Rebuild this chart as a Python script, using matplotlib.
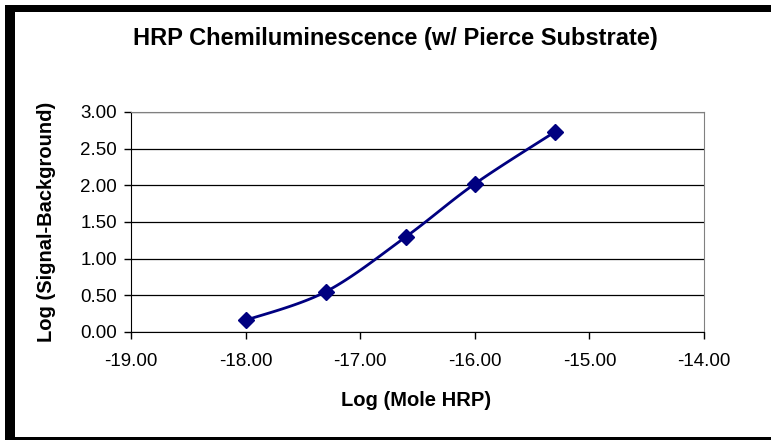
import matplotlib
matplotlib.use('Agg')
import matplotlib.pyplot as plt
from matplotlib.patches import Rectangle
import numpy as np

plt.rcParams['font.family'] = ['Liberation Sans', 'DejaVu Sans']

log_mole = [-18.0, -17.3, -16.6, -16.0, -15.3]
log_signal = [0.16, 0.55, 1.30, 2.02, 2.73]
x_ticks = [-19.0, -18.0, -17.0, -16.0, -15.0, -14.0]
y_ticks = [0.0, 0.5, 1.0, 1.5, 2.0, 2.5, 3.0]


# smooth line like excel (catmull-rom through points)
def smooth(xs, ys, n=30):
    p = np.column_stack([xs, ys])
    p = np.vstack([p[0], p, p[-1]])
    out = []
    for i in range(1, len(p) - 2):
        p0, p1, p2, p3 = p[i - 1], p[i], p[i + 1], p[i + 2]
        t = np.linspace(0, 1, n)[:, None]
        c = 0.5 * ((2 * p1) + (-p0 + p2) * t + (2 * p0 - 5 * p1 + 4 * p2 - p3) * t ** 2
                   + (-p0 + 3 * p1 - 3 * p2 + p3) * t ** 3)
        out.append(c)
    c = np.vstack(out)
    return c[:, 0], c[:, 1]


W, H = 771, 440
fig = plt.figure(figsize=(W / 100, H / 100), dpi=100)
ax = fig.add_axes([131 / W, 1 - 332 / H, (704 - 131) / W, (332 - 112) / H])

sx, sy = smooth(log_mole, log_signal)
ax.plot(sx, sy, color='#000080', linewidth=2, zorder=3)
ax.plot(log_mole, log_signal, linestyle='none', marker='D', markersize=8.5,
        color='#000080', zorder=4)

ax.set_xlim(-19, -14)
ax.set_ylim(0, 3)
ax.set_xticks(x_ticks)
ax.set_yticks(y_ticks)
ax.set_xticklabels(['%.2f' % v for v in x_ticks], fontsize=13.5)
ax.set_yticklabels(['%.2f' % v for v in y_ticks], fontsize=13.5)
ax.tick_params(direction='out', length=5, width=1, color='black')
ax.tick_params(axis='x', pad=10)
ax.tick_params(axis='y', pad=5)
ax.yaxis.grid(True, color='black', linewidth=0.9)
ax.set_axisbelow(True)
for s in ['top', 'right']:
    ax.spines[s].set_color('#808080')
for s in ['left', 'bottom']:
    ax.spines[s].set_color('black')

ax.set_xlabel('Log (Mole HRP)', fontsize=14.5, fontweight='bold', va='center')
ax.xaxis.set_label_coords(0.497, (332 - 400) / 220)
ax.set_ylabel('Log (Signal-Background)', fontsize=14.5, fontweight='bold', va='center')
ax.yaxis.set_label_coords((47 - 131) / 573, 0.5)
fig.text(0.5 * (123 + 668) / W, 1 - 38 / H, 'HRP Chemiluminescence (w/ Pierce Substrate)',
         ha='center', va='center', fontsize=17, fontweight='bold')

# thick chart border (cut at right edge)
for x0, y0, w, h in [(5, 0, 10, 435), (5, 428, W - 5, 7), (5, 0, W - 5, 3)]:
    fig.patches.append(Rectangle((x0 / W, y0 / H), w / W, h / H, transform=fig.transFigure,
                                 color='black', linewidth=0))

fig.savefig('out.png', dpi=100)
